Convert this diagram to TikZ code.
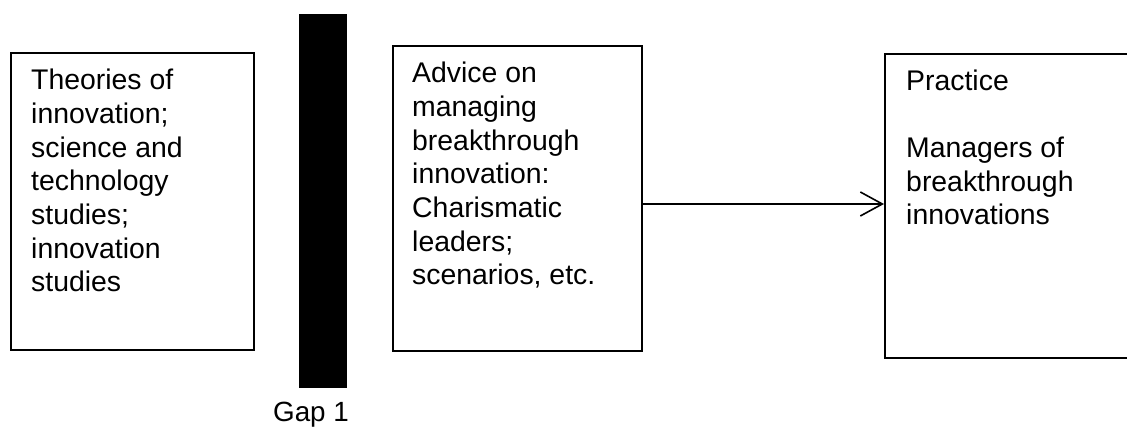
\documentclass[tikz,border=0pt]{standalone}
\usepackage{fontspec}
\setmainfont{Liberation Sans}
\usetikzlibrary{arrows.meta}
\begin{document}
\begin{tikzpicture}[x=1pt,y=-1pt,
  box/.style={draw, line width=1.8pt, rectangle, inner sep=0pt, anchor=north west},
  txt/.style={anchor=base west, align=left, inner sep=0pt, font=\fontsize{28.4}{33.7}\selectfont},
  conn/.style={line width=1.6pt, -{Straight Barb[length=22pt,width=24pt,line width=1.6pt]}}]
\useasboundingbox (0,0) rectangle (1127,427);
\clip (0,0) rectangle (1127,427);
\node[box, minimum width=243pt, minimum height=297pt] (b1) at (10,52) {};
\node[box, minimum width=249pt, minimum height=305pt] (b2) at (392,45) {};
\node[box, minimum width=256pt, minimum height=304pt] (b3) at (884,53) {};
\node[fill=black, draw=black, line width=0.5pt, inner sep=0pt, anchor=north west, minimum width=47pt, minimum height=373pt] (bar) at (299,14) {};
\node[txt] (t1) at (31,292) {Theories of\\innovation;\\science and\\technology\\studies;\\innovation\\studies};
\node[txt] (t2) at (412,285) {Advice on\\managing\\breakthrough\\innovation:\\Charismatic\\leaders;\\scenarios, etc.};
\node[txt] (t3) at (906,225) {Practice\\[33.7pt]Managers of\\breakthrough\\innovations};
\node[anchor=base, inner sep=0pt, font=\fontsize{27.8}{33.7}\selectfont] (gap) at (311,421) {Gap 1};
\coordinate (ay) at (0,204);
\draw[conn] (b2.east |- ay) -- (b3.west |- ay);
\end{tikzpicture}
\end{document}
